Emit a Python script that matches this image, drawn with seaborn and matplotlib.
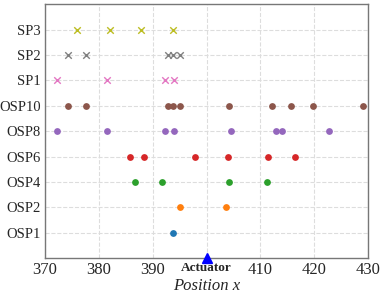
import matplotlib
matplotlib.use("Agg")
import matplotlib.pyplot as plt
import seaborn as sns
import pandas as pd

# sensor positions
sensors = ["OSP1", "OSP2", "OSP4", "OSP6", "OSP8", "OSP10", "SP1", "SP2", "SP3"]
osp1 = [393.8]
osp2 = [395.1, 403.6]
osp4 = [386.8, 391.8, 404.2, 411.3]
osp6 = [385.8, 388.4, 397.9, 403.9, 411.5, 416.4]
osp8 = [372.2, 381.6, 392.3, 394.0, 404.5, 412.9, 414.0, 422.8]
osp10 = [374.3, 377.7, 392.8, 393.8, 395.1, 404.2, 412.2, 415.7, 419.7, 429.1]
sp1 = [372.2, 381.6, 392.3, 394.0]
sp2 = [374.2, 377.7, 392.9, 393.8, 395.1]
sp3 = [376.0, 382.0, 387.9, 393.8]
positions = [osp1, osp2, osp4, osp6, osp8, osp10, sp1, sp2, sp3]
actuator_x = 400
xticks = [370, 380, 390, 400, 410, 420, 430]

sns.set_style("whitegrid", {"grid.linestyle": "--", "grid.color": "#dddddd",
                            "axes.edgecolor": "#777777"})
plt.rcParams["font.family"] = ["Liberation Serif", "DejaVu Serif"]

fig, ax = plt.subplots(figsize=(3.83, 2.94), dpi=100)
fig.subplots_adjust(left=0.1175, right=0.961, top=0.986, bottom=0.122)

colors = sns.color_palette("tab10", len(sensors))
for i, (name, xs) in enumerate(zip(sensors, positions)):
    df = pd.DataFrame({"x": xs, "y": [i] * len(xs)})
    if name.startswith("SP"):
        sns.scatterplot(data=df, x="x", y="y", ax=ax, marker="x", color=colors[i],
                        s=22, linewidth=1.0, zorder=3)
    else:
        sns.scatterplot(data=df, x="x", y="y", ax=ax, marker="o", color=colors[i],
                        s=24, linewidth=0, zorder=3)

ax.set_ylim(-1, len(sensors))
ax.set_xlim(370, 430)
ax.set_yticks(range(len(sensors)))
ax.set_yticklabels(sensors, fontsize=10.5)
ax.set_xticks(xticks)
labels = [str(t) if t != actuator_x else "Actuator" for t in xticks]
ax.set_xticklabels(labels, fontsize=12)
for lab, t in zip(ax.get_xticklabels(), xticks):
    if t == actuator_x:
        lab.set_fontweight("bold")
        lab.set_fontsize(9.5)

ax.plot([actuator_x], [-1], marker="^", color="blue", markersize=6.5,
        clip_on=False, zorder=5)

ax.set_xlabel("Position x", fontsize=12, fontstyle="italic", labelpad=0)
ax.set_ylabel("")
ax.tick_params(axis="both", length=0, pad=3)
for s in ax.spines.values():
    s.set_linewidth(1.0)

fig.savefig("out.png", dpi=100)
